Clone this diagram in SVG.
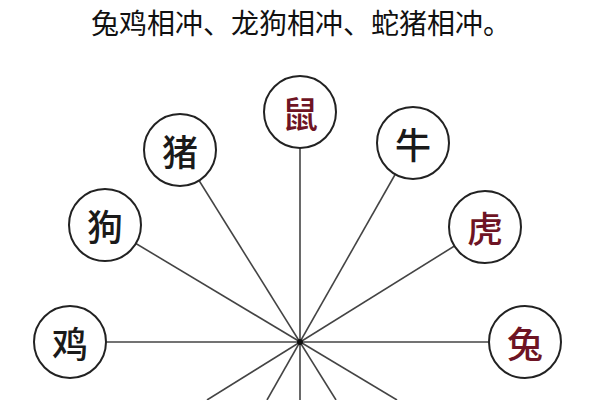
<svg xmlns="http://www.w3.org/2000/svg" width="600" height="400" viewBox="0 0 600 400">
<style>
.c{fill:#fff;stroke:#222;stroke-width:2}
.t{font-family:"Noto Sans CJK SC",sans-serif;font-size:36px;font-weight:500;text-anchor:middle;dominant-baseline:central;fill:#1a1a1a}
.r{fill:#6e1424}
.l{stroke:#444;stroke-width:1.6}
</style>
<rect width="600" height="400" fill="#fff"/>
<text x="301" y="22" font-family="Noto Sans CJK SC,sans-serif" font-size="28" text-anchor="middle" dominant-baseline="central" fill="#111">兔鸡相冲、龙狗相冲、蛇猪相冲。</text>
<g id="connectors">
<line class="l" x1="300" y1="112" x2="300" y2="400"/>
<line class="l" x1="413" y1="143" x2="267" y2="400"/>
<line class="l" x1="485" y1="227" x2="207" y2="400"/>
<line class="l" x1="525" y1="342" x2="60" y2="342"/>
<line class="l" x1="180" y1="150" x2="336" y2="400"/>
<line class="l" x1="105" y1="225" x2="397" y2="400"/>
<circle cx="300" cy="342" r="3" fill="#111"/>
</g>
<g id="shu"><circle class="c" cx="300" cy="112" r="36"/><text class="t r" x="300" y="112">鼠</text></g>
<g id="niu"><circle class="c" cx="413" cy="143" r="36"/><text class="t" x="413" y="143">牛</text></g>
<g id="hu"><circle class="c" cx="485" cy="227" r="36"/><text class="t r" x="485" y="227">虎</text></g>
<g id="tu"><circle class="c" cx="525" cy="342" r="36"/><text class="t r" x="525" y="342">兔</text></g>
<g id="zhu"><circle class="c" cx="180" cy="150" r="36"/><text class="t" x="180" y="150">猪</text></g>
<g id="gou"><circle class="c" cx="105" cy="225" r="36"/><text class="t" x="105" y="225">狗</text></g>
<g id="ji"><circle class="c" cx="70" cy="342" r="36"/><text class="t" x="70" y="342">鸡</text></g>
</svg>
